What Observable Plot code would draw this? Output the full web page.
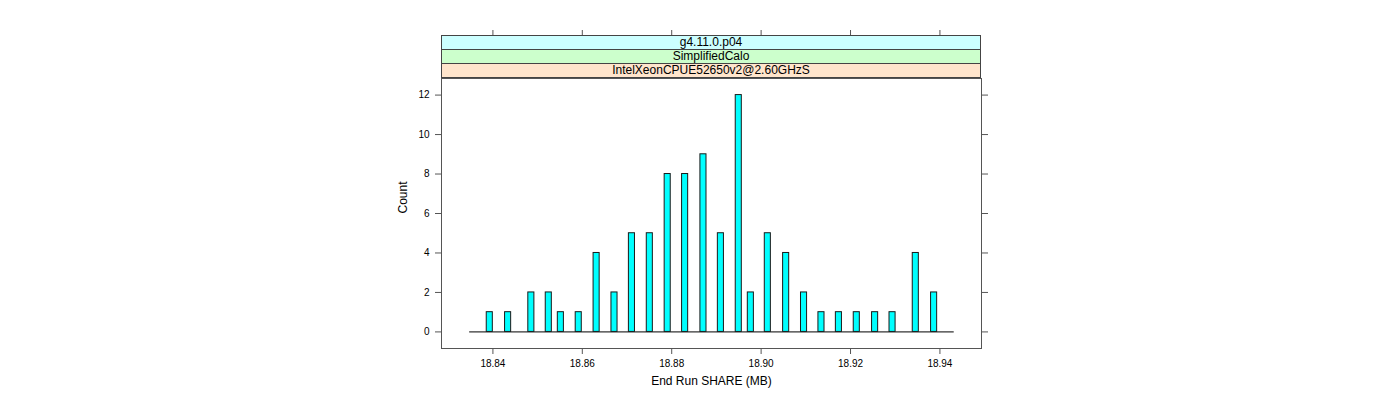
<!DOCTYPE html>
<html>
<head>
<meta charset="utf-8">
<script src="https://cdn.jsdelivr.net/npm/d3@7"></script>
<script src="https://cdn.jsdelivr.net/npm/@observablehq/plot@0.6"></script>
<style>
  html, body { margin: 0; padding: 0; background: white; }
  #wrap { position: relative; width: 1400px; height: 400px; font-family: "Liberation Sans", Arial, Helvetica, sans-serif; }
  .strip { position: absolute; box-sizing: border-box; border: 1px solid #444; font-size: 12px; line-height: 13px; text-align: center; color: black; }
</style>
</head>
<body>
<div id="wrap"></div>
<script>
// ---- data ----
const shareValues = [18.8393, 18.8434, 18.8486, 18.8525, 18.8552, 18.8592, 18.8632, 18.8672, 18.8711, 18.8751,
  18.8791, 18.8830, 18.8871, 18.8910, 18.8950, 18.8977, 18.9015, 18.9056, 18.9096, 18.9135,
  18.9174, 18.9214, 18.9255, 18.9294, 18.9346, 18.9387];
const counts = [1, 1, 2, 2, 1, 1, 4, 2, 5, 5, 8, 8, 9, 5, 12, 2, 5, 4, 2, 1, 1, 1, 1, 1, 4, 2];
const yTicks = [0, 2, 4, 6, 8, 10, 12];
const xTicks = [18.84, 18.86, 18.88, 18.90, 18.92, 18.94];
const stripLabels = ["g4.11.0.p04", "SimplifiedCalo", "IntelXeonCPUE52650v2@2.60GHzS"];
const stripColors = ["#ccffff", "#ccffcc", "#ffe5cc"];
const xLabel = "End Run SHARE (MB)";
const yLabel = "Count";

// ---- build ----
const data = shareValues.map((v, i) => ({v, count: counts[i]}));
const halfW = 0.00068;   // half bar width in data units
const basePad = 0.0045;
const ext = d3.extent(shareValues);
const baseline = [{x1: ext[0] - basePad, x2: ext[1] + basePad}];

const fmt = d3.format(".2f");
const plot = Plot.plot({
  width: 1400,
  height: 400,
  marginLeft: 441,
  marginRight: 419,
  marginTop: 78,
  marginBottom: 52,
  x: {domain: [18.8285, 18.9493]},
  y: {domain: [-0.84, 12.84]},
  style: {fontFamily: "'Liberation Sans', Arial, Helvetica, sans-serif", fontSize: "10px", color: "black", background: "white"},
  marks: [
    Plot.ruleY(baseline, {y: 0, x1: "x1", x2: "x2", stroke: "black", strokeWidth: 1}),
    Plot.rectY(data, {x1: d => d.v - halfW, x2: d => d.v + halfW, y1: 0, y2: "count",
      fill: "#00ffff", stroke: "#1a1a1a", strokeWidth: 1, insetLeft: 0, insetRight: 0}),
    Plot.frame({stroke: "#555"}),
    Plot.axisY(yTicks, {anchor: "left", tickSize: 6, tickPadding: 6, label: null, stroke: "#555", fill: "black"}),
    Plot.axisY(yTicks, {anchor: "right", tickSize: 6, tickFormat: () => "", label: null, stroke: "#555"}),
    Plot.axisX(xTicks, {anchor: "bottom", tickSize: 6, tickPadding: 5, tickFormat: fmt, label: null, stroke: "#555", fill: "black"}),
    Plot.axisX(xTicks, {anchor: "top", tickSize: 49, tickFormat: () => "", label: null, stroke: "#555"}),
    Plot.text([yLabel], {frameAnchor: "left", dx: -38, rotate: -90, fontSize: 12, fill: "black"}),
    Plot.text([xLabel], {frameAnchor: "bottom", dy: 36, fontSize: 12, fill: "black"})
  ]
});
const wrap = document.getElementById("wrap");
wrap.appendChild(plot);

// strips on top of the panel
const stripTops = [35, 49, 63];
stripLabels.forEach((lab, i) => {
  const d = document.createElement("div");
  d.className = "strip";
  d.style.left = "441px";
  d.style.width = "540px";
  d.style.top = stripTops[i] + "px";
  d.style.height = "15px";
  d.style.background = stripColors[i];
  d.textContent = lab;
  wrap.appendChild(d);
});
</script>
</body>
</html>
